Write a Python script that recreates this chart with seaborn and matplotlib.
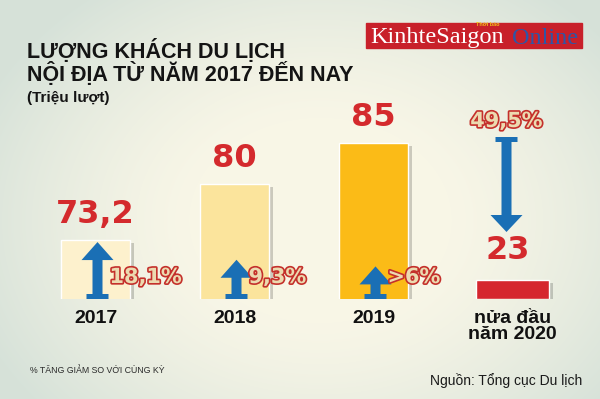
import numpy as np
import pandas as pd
import seaborn as sns
import matplotlib.pyplot as plt
import matplotlib.patheffects as pe
from matplotlib.patches import Polygon, Rectangle

# data (trieu luot)
years = ['2017', '2018', '2019', 'nửa đầu\nnăm 2020']
visitors = [73.2, 80, 85, 23]
value_labels = ['73,2', '80', '85', '23']
change_labels = ['18,1%', '9,3%', '>6%', '49,5%']
change_pct = [18.1, 9.3, 6, -49.5]

bar_colors = ['#fdf1cd', '#fbe49c', '#fbbb17']
red = '#d42a2d'
blue = '#1a6fb5'
pct_fill = '#ecdab0'
pct_edge = '#c4302b'

W, H = 600, 399
base = 66.0           # value at the bar baseline (infographic, not from zero)
Y = 19 / 156          # value units per pixel
DX = 1 / 139          # category units per pixel

sns.set_theme(style='white')
plt.rcParams['font.family'] = ['Liberation Sans', 'DejaVu Sans']

fig = plt.figure(figsize=(6, 3.99), dpi=100)

# background gradient
bg = fig.add_axes([0, 0, 1, 1])
yy, xx = np.mgrid[0:H, 0:W]
r = np.sqrt(((xx - 320) / 320) ** 2 + ((yy - 220) / 250) ** 2)
t = np.clip((r - 0.4) / 0.75, 0, 1) ** 1.3
c_in = np.array([0.973, 0.965, 0.905])
c_out = np.array([0.84, 0.885, 0.85])
img = c_in * (1 - t)[..., None] + c_out * t[..., None]
bg.imshow(img, aspect='auto', extent=(0, 1, 0, 1))
bg.set_axis_off()

# main axes: bottom edge = bar baseline
ax = fig.add_axes([0, 100 / H, 1, 299 / H])
ax.patch.set_alpha(0)
df = pd.DataFrame({'year': years[:3], 'visitors': visitors[:3]})
sns.barplot(data=df, x='year', y='visitors', order=years, hue='year',
            hue_order=years[:3], palette=bar_colors, width=0.5,
            saturation=1, legend=False, ax=ax)
for p in ax.patches:
    p.set_path_effects([pe.SimplePatchShadow(offset=(3, -2), shadow_rgbFace='black', alpha=0.18),
                        pe.Normal()])

x0 = -95.5 * DX
ax.set_xlim(x0, x0 + W * DX)
ax.set_ylim(base, base + 299 * Y)
ax.set_xlabel('')
ax.set_ylabel('')
ax.set_yticks([])
sns.despine(ax=ax, left=True, bottom=True)
ax.tick_params(axis='x', length=0, pad=8)
for lab in ax.get_xticklabels():
    lab.set_fontweight('bold')
    lab.set_fontsize(14)
    lab.set_color('#111111')
    lab.set_linespacing(0.9)

# stub for the 2020 half-year value (out of scale)
stub_top = base + 19 * Y
stub = ax.bar(3, stub_top - base, bottom=base, width=0.52, color='#d5262e', zorder=3)
stub[0].set_path_effects([pe.SimplePatchShadow(offset=(3, -2), shadow_rgbFace='black', alpha=0.18),
                          pe.Normal()])


def arrow(xc, y_from, y_to, head_len):
    s = np.sign(y_to - y_from)
    sw, hw, bw, bh = 5 * DX, 16 * DX, 11 * DX, 5 * Y * s
    yh = y_to - head_len * s
    pts = [(xc - bw, y_from), (xc + bw, y_from), (xc + bw, y_from + bh),
           (xc + sw, y_from + bh), (xc + sw, yh), (xc + hw, yh), (xc, y_to),
           (xc - hw, yh), (xc - sw, yh), (xc - sw, y_from + bh), (xc - bw, y_from + bh)]
    ax.add_patch(Polygon(pts, closed=True, color=blue, zorder=4, lw=0))


outline = [pe.withStroke(linewidth=2.4, foreground=pct_edge)]
big = dict(family='DejaVu Sans', fontsize=23, fontweight='bold', color=red, zorder=5)
pct = dict(family='DejaVu Sans', fontsize=15, fontweight='bold', color=pct_fill,
           path_effects=outline, zorder=6)

for i in range(3):
    v = visitors[i]
    ax.text(i, v + 10 * Y, value_labels[i], ha='center', va='bottom', **big)
    tip = base + 2.5 + 0.245 * change_pct[i]
    arrow(i + 2 * DX, base, tip, 18 * Y)
    ax.text(i + 14 * DX, base + 22 * Y, change_labels[i], ha='left', va='center', **pct)

# 2020 column
ax.text(3 - 5 * DX, stub_top + 14 * Y, value_labels[3], ha='center', va='bottom', **big)
pct_y = visitors[2] + 22 * Y
ax.text(3 - 6 * DX, pct_y, change_labels[3], ha='center', va='center', **pct)
arrow(3 - 6 * DX, pct_y - 16 * Y, stub_top + 48 * Y, 17 * Y)

# titles
title_kw = dict(fontweight='bold', color='#141414', fontsize=15.5)
fig.text(27 / W, 1 - 58 / H, 'LƯỢNG KHÁCH DU LỊCH', va='baseline', **title_kw)
fig.text(27 / W, 1 - 81 / H, 'NỘI ĐỊA TỪ NĂM 2017 ĐẾN NAY', va='baseline', **title_kw)
fig.text(27 / W, 1 - 102 / H, '(Triệu lượt)', va='baseline',
         fontweight='bold', color='#141414', fontsize=11)

fig.text(30 / W, 1 - 373 / H, '% TĂNG GIẢM SO VỚI CÙNG KỲ', va='baseline',
         fontsize=6.3, color='#2a2a2a')
fig.text(582 / W, 1 - 385 / H, 'Nguồn: Tổng cục Du lịch', va='baseline', ha='right',
         fontsize=10, color='#1a1a1a')

# logo
fig.patches.append(Rectangle((366 / W, 1 - 48 / H), 216 / W, 25 / H, transform=fig.transFigure,
                             color='#c8202a', zorder=2))
fig.text(370 / W, 1 - 43.5 / H, 'KinhteSaigon', family='Liberation Serif', fontsize=17.5,
         color='white', va='baseline', zorder=3)
fig.text(578 / W, 1 - 43.5 / H, 'Online', family='Liberation Serif', fontsize=17.5,
         color='#2f55a6', ha='right', va='baseline', zorder=3)
fig.text(488 / W, 1 - 26 / H, 'Thời báo', fontsize=4, fontweight='bold',
         color='#f2c21b', ha='center', va='baseline', zorder=4)

fig.savefig('out.png', dpi=100)
